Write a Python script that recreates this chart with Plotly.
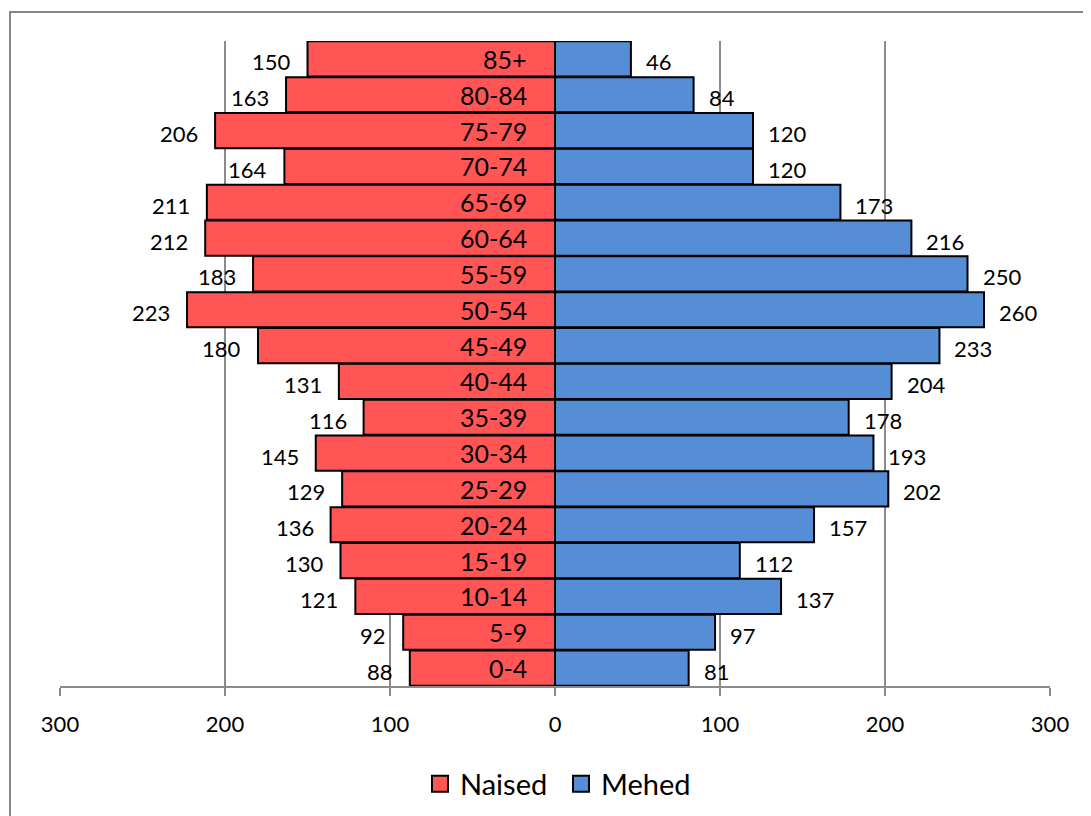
import plotly.graph_objects as go

ages = ["0-4", "5-9", "10-14", "15-19", "20-24", "25-29", "30-34", "35-39", "40-44",
        "45-49", "50-54", "55-59", "60-64", "65-69", "70-74", "75-79", "80-84", "85+"]
naised = [88, 92, 121, 130, 136, 129, 145, 116, 131, 180, 223, 183, 212, 211, 164, 206, 163, 150]
mehed = [81, 97, 137, 112, 157, 202, 193, 178, 204, 233, 260, 250, 216, 173, 120, 120, 84, 46]
tick_vals = [-300, -200, -100, 0, 100, 200, 300]
tick_text = ["300", "200", "100", "0", "100", "200", "300"]

FONT = "Lato"
RED = "#FF5555"
BLUE = "#558ED5"
GRID = "#8C8C8C"

fig = go.Figure()
fig.add_trace(go.Bar(y=ages, x=[-v for v in naised], orientation="h", name="Naised",
                     marker=dict(color=RED, line=dict(color="black", width=2)),
                     hoverinfo="skip", showlegend=False))
fig.add_trace(go.Bar(y=ages, x=mehed, orientation="h", name="Mehed",
                     marker=dict(color=BLUE, line=dict(color="black", width=2)),
                     hoverinfo="skip", showlegend=False))
# legend entries with larger square keys
for nm, col in (("Naised", RED), ("Mehed", BLUE)):
    fig.add_trace(go.Scatter(x=[None], y=[None], mode="markers", name=nm,
                             marker=dict(symbol="square", size=18, color=col,
                                         line=dict(color="black", width=2)),
                             hoverinfo="skip", showlegend=True))

annotations = []
for a, n, m in zip(ages, naised, mehed):
    annotations.append(dict(x=-n, y=a, xref="x", yref="y", text=str(n), showarrow=False,
                            xanchor="right", xshift=-15, yshift=-3,
                            font=dict(family=FONT, size=22, color="black")))
    annotations.append(dict(x=m, y=a, xref="x", yref="y", text=str(m), showarrow=False,
                            xanchor="left", xshift=13, yshift=-3,
                            font=dict(family=FONT, size=22, color="black")))
    annotations.append(dict(x=0, y=a, xref="x", yref="y", text=a, showarrow=False,
                            xanchor="right", xshift=-26, yshift=0,
                            font=dict(family=FONT, size=25, color="black")))

# page offset of the figure (browser body margin)
OFF = 8
W, H = 1083, 808
L, R, T, B = 52, 41, 33, 130
pw, ph = W - L - R, H - T - B

def px(xp):
    return (xp - OFF - L) / pw

def py(yp):
    return (H - B - (yp - OFF)) / ph

shapes = [dict(type="rect", xref="paper", yref="paper",
               x0=px(10), x1=px(1200), y0=py(12), y1=py(950),
               line=dict(color="#868686", width=2), fillcolor="rgba(0,0,0,0)", layer="below")]

fig.update_layout(
    width=W, height=H,
    margin=dict(l=L, r=R, t=T, b=B, autoexpand=False),
    paper_bgcolor="white", plot_bgcolor="white",
    barmode="relative", bargap=0.02,
    font=dict(family=FONT, color="black"),
    showlegend=True,
    legend=dict(orientation="h", x=px(561), xanchor="center", y=py(784), yanchor="middle",
                font=dict(family=FONT, size=29, color="black"), itemwidth=30,
                entrywidth=96, traceorder="normal"),
    annotations=annotations,
    shapes=shapes,
    xaxis=dict(range=[-300, 300], tickvals=tick_vals, ticktext=tick_text,
               showgrid=True, gridcolor=GRID, gridwidth=1.5,
               zeroline=True, zerolinecolor=GRID, zerolinewidth=1.5,
               showline=True, linecolor=GRID, linewidth=1.5,
               ticks="outside", ticklen=8, tickcolor=GRID, tickwidth=1.5,
               ticklabelstandoff=10,
               tickfont=dict(family=FONT, size=22, color="black")),
    yaxis=dict(showticklabels=False, showgrid=False, zeroline=False, showline=False,
               ticks="", range=[-0.5, len(ages) - 0.5]),
)

fig.write_html("out.html")
